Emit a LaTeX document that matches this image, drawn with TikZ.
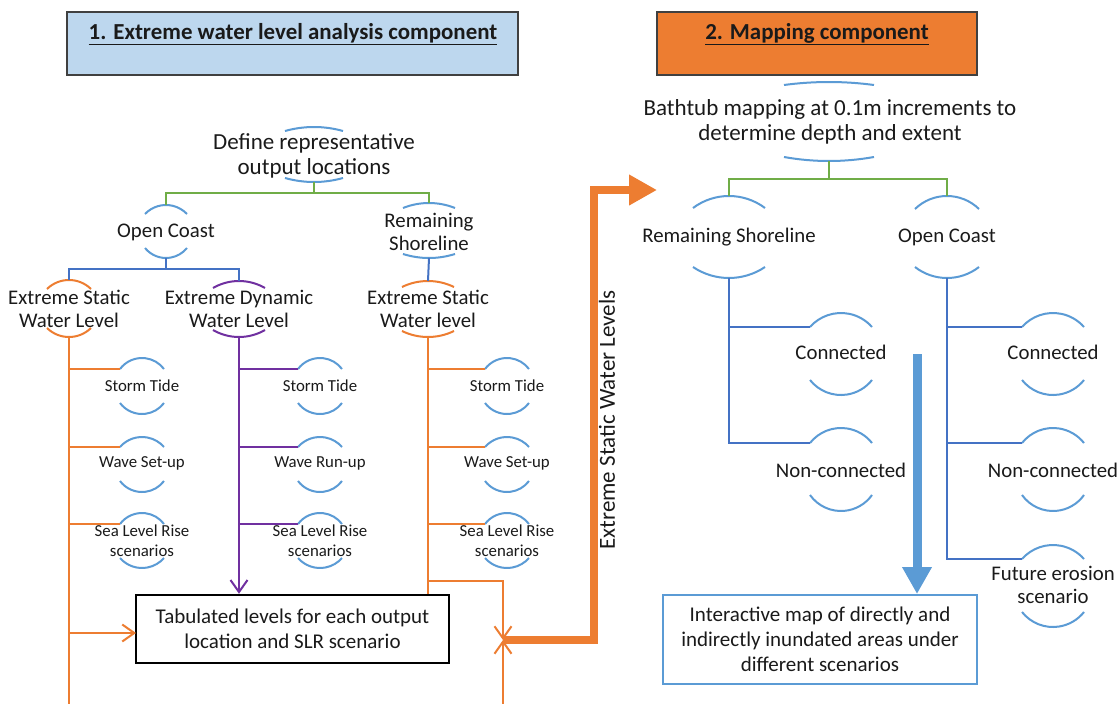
\documentclass[tikz,border=0pt]{standalone}
\usepackage{fontspec}
\setmainfont{Carlito}
\usetikzlibrary{arrows.meta,calc}
\definecolor{arcblue}{HTML}{5B9BD5}
\definecolor{lineblue}{HTML}{4472C4}
\definecolor{ogreen}{HTML}{70AD47}
\definecolor{oorange}{HTML}{ED7D31}
\definecolor{opurple}{HTML}{7030A0}
\definecolor{hdrblue}{HTML}{BDD7EE}
\definecolor{hdrborder}{HTML}{404040}
\definecolor{txt}{HTML}{1A1A1A}
\newcommand\fbig{\fontsize{23}{25}\selectfont}
\newcommand\fmed{\fontsize{20.8}{22.5}\selectfont}
\newcommand\fboxtxt{\fontsize{21}{25}\selectfont}
\newcommand\fsm{\fontsize{16.8}{20}\selectfont}
\newcommand\fhdr{\fontsize{22.9}{26}\selectfont\bfseries}
% name, colour, cx, y of top arc ends, top sagitta, y of bottom arc ends, bottom sagitta, half width
\newcommand\bracketarcs[8]{%
  \pgfmathsetmacro\brR{(#8*#8+#5*#5)/(2*#5)}%
  \pgfmathsetmacro\brA{asin(#8/\brR)}%
  \draw[arcline,#2] ({#3-#8},{#4}) arc[start angle={270-\brA}, end angle={270+\brA}, radius=\brR];
  \pgfmathsetmacro\brR{(#8*#8+#7*#7)/(2*#7)}%
  \pgfmathsetmacro\brA{asin(#8/\brR)}%
  \draw[arcline,#2] ({#3-#8},{#6}) arc[start angle={90+\brA}, end angle={90-\brA}, radius=\brR];
  \coordinate (#1-t) at (#3,{#4-#5});
  \coordinate (#1-b) at (#3,{#6+#7});
  \coordinate (#1-tl) at ({#3-#8},{#4});
}
\tikzset{
  arcline/.style={line width=2pt},
  lbl/.style={align=center, inner sep=0pt, text=txt},
  gline/.style={draw=ogreen, line width=2pt},
  bline/.style={draw=lineblue, line width=2pt},
  oline/.style={draw=oorange, line width=2pt},
  pline/.style={draw=opurple, line width=2pt},
  barb/.style={-{Straight Barb[length=12pt,width=17pt,line width=2pt]}},
  hdrbox/.style={draw=hdrborder, line width=1.2pt, inner sep=0pt},
}
\begin{document}
\begin{tikzpicture}[x=1pt,y=-1pt]
\useasboundingbox (0,0) rectangle (1119,704);
\fill[white] (0,0) rectangle (1119,704);

% ---------------- headers
\node[hdrbox, fill=hdrblue, minimum width=451pt, minimum height=63pt] (h1) at (292.5,43.5) {};
\node[lbl, font=\fhdr] (h1t) at (293,34) {\underline{1. Extreme water level analysis component}};
\node[hdrbox, fill=oorange, minimum width=320pt, minimum height=63pt] (h2) at (817,43.5) {};
\node[lbl, font=\fhdr] (h2t) at (817,34) {\underline{2. Mapping component}};

% ---------------- left component
\node[lbl, font=\fbig] (def) at (314,156) {Define representative\\output locations};
\bracketarcs{def}{arcblue}{314}{131}{4}{178}{4}{29}
\node[lbl, font=\fmed] (oc) at (166,232) {Open Coast};
\bracketarcs{oc}{arcblue}{166}{214}{9}{248}{10}{21}
\node[lbl, font=\fmed] (rs) at (429,232) {Remaining\\Shoreline};
\bracketarcs{rs}{arcblue}{429}{208}{5}{254}{4}{26}
\node[lbl, font=\fmed] (ews1) at (69,309) {Extreme Static\\Water Level};
\bracketarcs{ews1}{oorange}{69}{289}{9}{328}{9}{22}
\node[lbl, font=\fmed] (edwl) at (239,309) {Extreme Dynamic\\Water Level};
\bracketarcs{edwl}{opurple}{239}{288}{7}{330}{7}{26}
\node[lbl, font=\fmed] (ews3) at (428,309) {Extreme Static\\Water level};
\bracketarcs{ews3}{oorange}{428}{287}{6}{331}{6}{26}

% items
\node[lbl, font=\fsm] (st1) at (142,386) {Storm Tide};
\bracketarcs{st1}{arcblue}{142}{369}{11}{403}{11}{22}
\node[lbl, font=\fsm] (ws1) at (142,463) {Wave Set-up};
\bracketarcs{ws1}{arcblue}{142}{447}{10}{481}{11}{22}
\node[lbl, font=\fsm] (sl1) at (142,541) {Sea Level Rise\\scenarios};
\bracketarcs{sl1}{arcblue}{142}{524}{11}{558}{10}{22}

\node[lbl, font=\fsm] (st2) at (320,386) {Storm Tide};
\bracketarcs{st2}{arcblue}{320}{369}{11}{403}{11}{22}
\node[lbl, font=\fsm] (ws2) at (320,463) {Wave Run-up};
\bracketarcs{ws2}{arcblue}{320}{447}{10}{481}{11}{22}
\node[lbl, font=\fsm] (sl2) at (320,541) {Sea Level Rise\\scenarios};
\bracketarcs{sl2}{arcblue}{320}{524}{11}{558}{10}{22}

\node[lbl, font=\fsm] (st3) at (507,386) {Storm Tide};
\bracketarcs{st3}{arcblue}{507}{369}{11}{403}{11}{22}
\node[lbl, font=\fsm] (ws3) at (507,463) {Wave Set-up};
\bracketarcs{ws3}{arcblue}{507}{447}{10}{481}{11}{22}
\node[lbl, font=\fsm] (sl3) at (507,541) {Sea Level Rise\\scenarios};
\bracketarcs{sl3}{arcblue}{507}{524}{11}{558}{10}{22}

\node[draw=black, line width=2.5pt, minimum width=313pt, minimum height=68pt, align=center, inner sep=0pt, font=\fboxtxt, text=txt] (tab) at (292.5,629) {Tabulated levels for each output\\location and SLR scenario};

% connectors left
\coordinate (g1) at (314,193);
\draw[gline] (def-b) -- (g1);
\draw[gline] (g1) -| (oc-t);
\draw[gline] (g1) -| (rs-t);
\coordinate (b1) at (166,269);
\draw[bline] (oc-b) -- (b1);
\draw[bline] (b1) -| (ews1-t);
\draw[bline] (b1) -| (edwl-t);
\draw[bline] (rs-b) -- (ews3-t);

\coordinate (lbot) at (69,704);
\draw[oline] (ews1-b) -- (lbot);
\draw[oline] (ews1-b |- st1-tl) -- (st1-tl);
\draw[oline] (ews1-b |- ws1-tl) -- (ws1-tl);
\draw[oline] (ews1-b |- sl1-tl) -- (sl1-tl);
\coordinate (ta) at (136,633);
\draw[oline, barb] (ews1-b |- ta) -- (ta);

\draw[pline, barb] (edwl-b) -- (edwl-b |- tab.north);
\draw[pline] (edwl-b |- st2-tl) -- (st2-tl);
\draw[pline] (edwl-b |- ws2-tl) -- (ws2-tl);
\draw[pline] (edwl-b |- sl2-tl) -- (sl2-tl);

\draw[oline] (ews3-b) -- (ews3-b |- tab.north);
\draw[oline] (ews3-b |- st3-tl) -- (st3-tl);
\draw[oline] (ews3-b |- ws3-tl) -- (ws3-tl);
\draw[oline] (ews3-b |- sl3-tl) -- (sl3-tl);
\coordinate (r1) at (428,581);
\coordinate (mx) at (503,640);
\coordinate (rbot) at (503,704);
\draw[oline, barb] (r1) -| (mx);
\draw[oline, barb] (rbot) -- (mx);

% thick connector to mapping component
\coordinate (tk) at (594,190);
\coordinate (ttip) at (657,190);
\draw[draw=oorange, line width=8pt, -{Triangle[length=28pt,width=29pt]}] (mx) -| (tk) -- (ttip);
\node[lbl, font=\fbig, rotate=90] (esl) at (607,420) {Extreme Static Water Levels};

% ---------------- right component
\node[lbl, font=\fbig] (bath) at (830,122) {Bathtub mapping at 0.1m increments to\\determine depth and extent};
\bracketarcs{bath}{arcblue}{829}{85}{3}{157}{4}{45}
\node[lbl, font=\fmed] (rsR) at (729,237) {Remaining Shoreline};
\bracketarcs{rsR}{arcblue}{729}{208}{12}{267}{11}{36}
\node[lbl, font=\fmed] (ocR) at (947,237) {Open Coast};
\bracketarcs{ocR}{arcblue}{947}{209}{13}{267}{11}{32}

\node[lbl, font=\fmed] (c1) at (841,352) {Connected};
\bracketarcs{c1}{arcblue}{841}{327}{14}{380}{15}{31}
\node[lbl, font=\fmed] (n1) at (841,470) {Non-connected};
\bracketarcs{n1}{arcblue}{841}{443}{15}{495}{16}{31}
\node[lbl, font=\fmed] (c2) at (1053,352) {Connected};
\bracketarcs{c2}{arcblue}{1053}{327}{14}{380}{15}{31}
\node[lbl, font=\fmed] (n2) at (1053,470) {Non-connected};
\bracketarcs{n2}{arcblue}{1053}{443}{15}{495}{16}{31}
\node[lbl, font=\fmed] (fe) at (1053,585) {Future erosion\\scenario};
\bracketarcs{fe}{arcblue}{1053}{559}{14}{612}{15}{31}

\node[draw=arcblue, line width=2pt, minimum width=314pt, minimum height=89pt, align=center, inner sep=0pt, font=\fboxtxt, text=txt] (map) at (820,639.5) {Interactive map of directly and\\indirectly inundated areas under\\different scenarios};

\coordinate (g2) at (829,179);
\draw[gline] (bath-b) -- (g2);
\draw[gline] (g2) -| (rsR-t);
\draw[gline] (g2) -| (ocR-t);
\draw[bline] (rsR-b) |- (c1-tl);
\draw[bline] (rsR-b) |- (n1-tl);
\draw[bline] (ocR-b) |- (c2-tl);
\draw[bline] (ocR-b) |- (n2-tl);
\draw[bline] (ocR-b) |- (fe-tl);

\coordinate (ba) at (917,354);
\draw[draw=arcblue, line width=9pt, -{Triangle[length=27pt,width=28pt]}] (ba) -- (ba |- map.north);
\end{tikzpicture}
\end{document}
